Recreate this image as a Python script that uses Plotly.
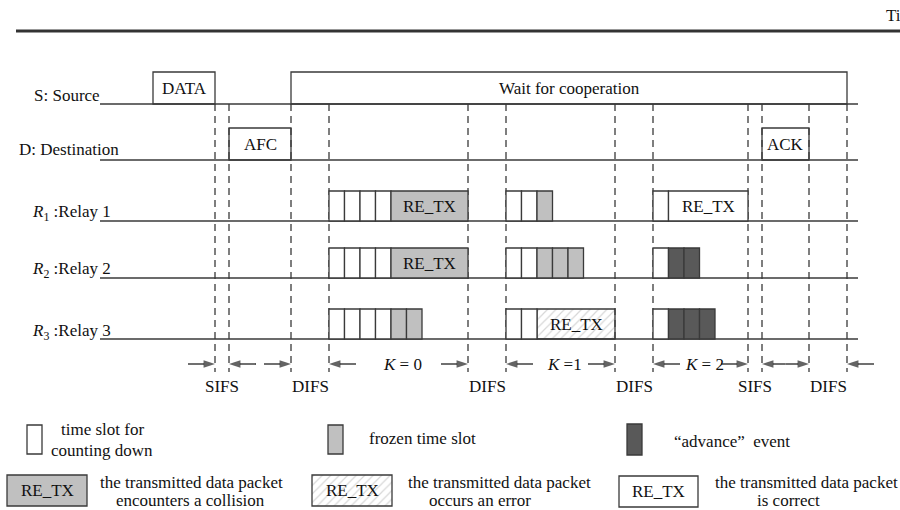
import plotly.graph_objects as go

# ---------------- data ----------------
row_labels = ["S: Source", "D: Destination",
              "<i>R</i><sub>1</sub> :Relay 1",
              "<i>R</i><sub>2</sub> :Relay 2",
              "<i>R</i><sub>3</sub> :Relay 3"]
# time marks (x-axis time units) of the dashed boundaries
boundaries = [215, 229, 291, 329, 468, 506, 615, 653, 748, 762, 809, 847]
source_frames = [("DATA", 153, 215), ("Wait for cooperation", 291, 847)]
dest_frames = [("AFC", 229, 291), ("ACK", 762, 809)]
contention_starts = [329, 506, 653]
contention_ends = [468, 615, 748]
slot_len = 15.5
# per relay, per contention round (K = 0, 1, 2)
relay_white = [[4, 2, 1], [4, 2, 1], [4, 2, 1]]
relay_frozen = [[0, 1, 0], [0, 3, 0], [2, 0, 0]]
relay_advance = [[0, 0, 0], [0, 0, 2], [0, 0, 3]]
relay_packet = [["collision", None, "correct"],
                ["collision", None, None],
                [None, "error", None]]
interval_spans = [(215, 229), (291, 329), (329, 468), (468, 506), (506, 615),
                  (615, 653), (653, 748), (748, 762), (809, 847)]
interval_labels = ["SIFS", "DIFS", "<i>K</i> = 0", "DIFS", "<i>K</i> =1",
                   "DIFS", "<i>K</i> = 2", "SIFS", "DIFS"]
# arrow heads: (time, direction) +1 = pointing right, -1 = pointing left
arrow_heads = [(215, 1), (229, -1), (291, 1), (329, -1), (468, 1), (506, -1),
               (615, 1), (653, -1), (748, 1), (847, -1)]
double_arrow = (762, 809)

# ---------------- style ----------------
FONT = "Liberation Serif"
FS = 17
EDGE = "#3a3a3a"
TXT = "#111111"
ARROW = "#222222"
GRAY = "#c0c0c0"
DARK = "#595959"
row_y = [104, 160, 221, 278, 339]
row_label_x = [32, 17, 30, 30, 30]
row_label_y = [95, 149, 213, 270, 332]
box_h = [32, 32, 30, 30, 30]
line_x0, line_x1 = 100, 858
arrow_y = 364
arrow_len = 27

shapes, annos = [], []
fig = go.Figure()


def rect(x0, x1, y0, y1, fill="white", lw=1.3):
    shapes.append(dict(type="rect", xref="x", yref="y", x0=x0, x1=x1, y0=y0, y1=y1,
                       fillcolor=fill, line=dict(color=EDGE, width=lw), layer="above"))


def text(x, y, s, anchor="center", size=FS):
    annos.append(dict(x=x, y=y, xref="x", yref="y", text=s, showarrow=False,
                      xanchor=anchor, yanchor="middle",
                      font=dict(family=FONT, size=size, color=TXT)))


def hatch(x0, x1, y0, y1):
    fig.add_trace(go.Bar(x=[(x0 + x1) / 2], y=[y1 - y0], base=[y0], width=[x1 - x0],
                         marker=dict(color="white", line=dict(color=EDGE, width=1.3),
                                     pattern=dict(shape="/", fgcolor="#b0b0b0", bgcolor="white",
                                                  size=6, solidity=0.2)),
                         hoverinfo="skip", showlegend=False))


def arrow(tail, head):
    fig.add_trace(go.Scatter(x=[tail, head], y=[arrow_y, arrow_y], mode="lines+markers",
                             line=dict(color=ARROW, width=1.3),
                             marker=dict(symbol="arrow", size=[0, 12], angleref="previous",
                                         color=ARROW, line=dict(width=0)),
                             hoverinfo="skip", showlegend=False, cliponaxis=False))


# top rule and time label
shapes.append(dict(type="line", x0=16, x1=900, y0=31, y1=31, xref="x", yref="y",
                   line=dict(color="#333333", width=3)))
text(884, 15, "Ti", anchor="left")

# dashed boundaries
for b in boundaries:
    shapes.append(dict(type="line", x0=b, x1=b, y0=row_y[0], y1=372, xref="x", yref="y",
                       line=dict(color=EDGE, width=1.3, dash="7px,5px"), layer="above"))

# baselines and labels
for i, lab in enumerate(row_labels):
    shapes.append(dict(type="line", x0=line_x0, x1=line_x1, y0=row_y[i], y1=row_y[i],
                       xref="x", yref="y", line=dict(color=EDGE, width=1.5), layer="above"))
    text(row_label_x[i], row_label_y[i], lab, anchor="left")

# source / destination frames
for frames, r in ((source_frames, 0), (dest_frames, 1)):
    for lab, x0, x1 in frames:
        rect(x0, x1, row_y[r] - box_h[r], row_y[r], fill="rgba(0,0,0,0)")
        text((x0 + x1) / 2, row_y[r] - box_h[r] / 2, lab)

# relays
for ri in range(3):
    r = ri + 2
    yb, yt = row_y[r], row_y[r] - box_h[r]
    for k in range(3):
        x = contention_starts[k]
        for _ in range(relay_white[ri][k]):
            rect(x, x + slot_len, yt, yb, "white")
            x += slot_len
        for _ in range(relay_frozen[ri][k]):
            rect(x, x + slot_len, yt, yb, GRAY)
            x += slot_len
        for _ in range(relay_advance[ri][k]):
            rect(x, x + slot_len, yt, yb, DARK)
            x += slot_len
        p = relay_packet[ri][k]
        if p:
            x1 = contention_ends[k]
            if p == "error":
                hatch(x, x1, yt, yb)
            else:
                rect(x, x1, yt, yb, GRAY if p == "collision" else "white")
            text((x + x1) / 2, (yt + yb) / 2, "RE_TX")

# interval labels
for (a, b), lab in zip(interval_spans, interval_labels):
    if "K" in lab:
        text((a + b) / 2 + 4, arrow_y, lab)
    else:
        text((a + b) / 2, 386, lab)

# arrows
for h, d in arrow_heads:
    arrow(h - d * arrow_len, h)
mid = (double_arrow[0] + double_arrow[1]) / 2
arrow(mid, double_arrow[0])
arrow(mid, double_arrow[1])

# legend
rect(27, 42, 425, 454, "white")
text(102, 429, "time slot for")
text(102, 450, "counting down")
rect(328, 343, 425, 454, GRAY)
text(367, 438, "frozen time slot", anchor="left")
rect(627, 642, 424, 455, DARK)
text(672, 441, "\u201cadvance\u201d  event", anchor="left")

rect(7, 87, 475, 506, GRAY)
text(47, 490.5, "RE_TX")
text(98, 482, "the transmitted data packet", anchor="left")
text(190, 500, "encounters a collision")

hatch(312, 392, 475, 506)
text(352, 490.5, "RE_TX")
text(406, 482, "the transmitted data packet", anchor="left")
text(480, 500, "occurs an error")

rect(619, 698, 476, 507, "white")
text(658.5, 491.5, "RE_TX")
text(713, 482, "the transmitted data packet", anchor="left")
text(788, 500, "is correct")

fig.update_layout(
    width=900, height=510, margin=dict(l=0, r=0, t=0, b=0),
    paper_bgcolor="white", plot_bgcolor="white",
    xaxis=dict(range=[0, 900], visible=False, fixedrange=True),
    yaxis=dict(range=[510, 0], visible=False, fixedrange=True),
    shapes=shapes, annotations=annos, barmode="overlay", showlegend=False,
)
fig.write_html("out.html", config=dict(displayModeBar=False),
               post_script="document.body.style.margin='0px';document.body.style.overflow='hidden';")
